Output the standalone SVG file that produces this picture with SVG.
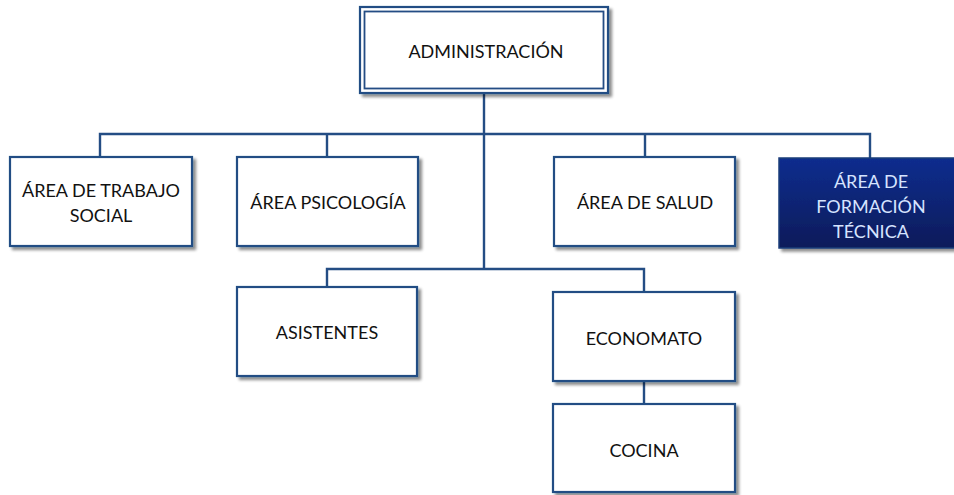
<svg xmlns="http://www.w3.org/2000/svg" width="954" height="495" viewBox="0 0 954 495">
<style>
.box{fill:#ffffff;stroke:#244d84;stroke-width:2.2}
.t{font-family:Lato,"Liberation Sans",sans-serif;font-size:18px;fill:#111111;text-anchor:middle}
.tw{font-family:Lato,"Liberation Sans",sans-serif;font-size:18px;fill:#d6e4ff;text-anchor:middle}
.c{fill:none;stroke:#244d84;stroke-width:2.4}
</style>
<defs>
<filter id="sh" x="-10%" y="-10%" width="130%" height="130%">
<feGaussianBlur in="SourceAlpha" stdDeviation="1.5"/>
<feOffset dx="3" dy="3" result="b"/>
<feComponentTransfer><feFuncA type="linear" slope="0.45"/></feComponentTransfer>
<feMerge><feMergeNode/><feMergeNode in="SourceGraphic"/></feMerge>
</filter>
<linearGradient id="dk" x1="0" y1="0" x2="0" y2="1">
<stop offset="0" stop-color="#0b2d8e"/>
<stop offset="1" stop-color="#071b5a"/>
</linearGradient>
</defs>
<g id="connectors">
<path class="c" d="M484 93V269"/>
<path class="c" d="M100 157V134H870V158"/>
<path class="c" d="M327 134V157"/>
<path class="c" d="M645 134V157"/>
<path class="c" d="M327 288V269H644V292"/>
<path class="c" d="M644 381V404"/>
</g>
<g id="n-admin">
<rect x="360" y="7" width="248" height="86" fill="#fff" stroke="#244d84" stroke-width="2.2" filter="url(#sh)"/>
<rect x="364.5" y="11.5" width="239" height="77" fill="none" stroke="#244d84" stroke-width="1.8"/>
<text class="t" x="486" y="58">ADMINISTRACIÓN</text>
</g>
<g id="n-trabajo">
<rect class="box" x="10" y="157" width="182" height="89" filter="url(#sh)"/>
<text class="t" x="101" y="197">ÁREA DE TRABAJO</text>
<text class="t" x="101" y="222">SOCIAL</text>
</g>
<g id="n-psico">
<rect class="box" x="237" y="157" width="181" height="89" filter="url(#sh)"/>
<text class="t" x="328" y="209">ÁREA PSICOLOGÍA</text>
</g>
<g id="n-salud">
<rect class="box" x="554" y="157" width="181" height="89" filter="url(#sh)"/>
<text class="t" x="645" y="209">ÁREA DE SALUD</text>
</g>
<g id="n-formacion">
<rect x="779" y="158" width="184" height="90" fill="url(#dk)" stroke="#1d3f7a" stroke-width="1.5" filter="url(#sh)"/>
<text class="tw" x="871" y="188">ÁREA DE</text>
<text class="tw" x="871" y="213">FORMACIÓN</text>
<text class="tw" x="871" y="238">TÉCNICA</text>
</g>
<g id="n-asistentes">
<rect class="box" x="237" y="287" width="180" height="89" filter="url(#sh)"/>
<text class="t" x="327" y="339">ASISTENTES</text>
</g>
<g id="n-economato">
<rect class="box" x="553" y="292" width="182" height="89" filter="url(#sh)"/>
<text class="t" x="644" y="345">ECONOMATO</text>
</g>
<g id="n-cocina">
<rect class="box" x="553" y="404" width="182" height="88" filter="url(#sh)"/>
<text class="t" x="644" y="457">COCINA</text>
</g>
</svg>
